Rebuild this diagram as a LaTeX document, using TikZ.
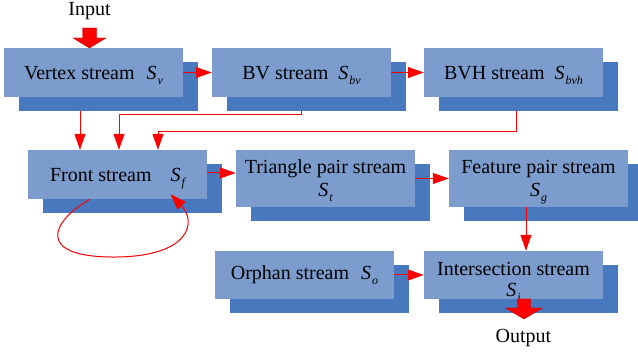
\documentclass[tikz,border=0pt]{standalone}
\usepackage{fontspec}
\setmainfont{Liberation Serif}
\usetikzlibrary{arrows.meta,calc}

\definecolor{boxfront}{RGB}{123,156,204}
\definecolor{boxback}{RGB}{72,121,191}
\definecolor{flowred}{RGB}{255,0,0}

% stream symbol S with an italic subscript (subscript kept out of the box depth)
\newcommand\strsym[1]{\textit{S}\kern1pt\smash{\raisebox{-5pt}{\fontsize{12}{12}\selectfont\itshape #1}}}

\begin{document}
\begin{tikzpicture}[x=1pt,y=-1pt,
  every node/.style={font=\fontsize{20}{22}\selectfont},
  frontbox/.style={fill=boxfront, minimum width=179pt, minimum height=49pt,
                   inner sep=0pt, align=center},
  onerow/.style={text depth=0pt},
  backbox/.style={fill=boxback, minimum width=179pt, minimum height=49pt, inner sep=0pt},
  link/.style={draw=flowred, line width=1pt,
               -{Triangle[length=16pt,width=11pt]}},
  blockarrow/.style={fill=flowred, draw=red!75!black, line width=0.4pt},
]
\useasboundingbox (0,0) rectangle (638,358);

% ---- shadow boxes (offset 15,14) ----
\node[backbox] (vsb)  at (108.5,86.5) {};
\node[backbox] (bvb)  at (316.5,86.5) {};
\node[backbox] (bvhb) at (528.5,86.5) {};
\node[backbox] (fsb)  at (132.5,188.5) {};
\node[backbox, minimum height=57pt] (tpb) at (340.5,192.5) {};
\node[backbox, minimum height=57pt] (fpb) at (553.5,192.5) {};
\node[backbox, minimum height=48pt] (osb) at (319.5,289) {};
\node[backbox, minimum height=48pt] (isb) at (528.5,289) {};

% ---- front boxes ----
\node[frontbox, onerow] (vs)  at (93.5,72.5)  {Vertex stream\hspace{12pt}\strsym{v}};
\node[frontbox, onerow] (bv)  at (301.5,72.5) {BV stream\hspace{10pt}\strsym{bv}};
\node[frontbox, onerow] (bvh) at (513.5,72.5) {BVH stream\hspace{10pt}\strsym{bvh}};
\node[frontbox, onerow] (fs)  at (117.5,174.5) {Front stream\hspace{19pt}\strsym{f}};
\node[frontbox, minimum height=57pt] (tp) at (325.5,178.5) {Triangle pair stream\\[1pt]\strsym{t}};
\node[frontbox, minimum height=57pt] (fp) at (538.5,178.5) {Feature pair stream\\[1pt]\strsym{g}};
\node[frontbox, onerow, minimum height=48pt, text depth=4pt] (os) at (304.5,275) {Orphan stream\hspace{12pt}\strsym{o}};
\node[frontbox, minimum height=48pt] (is) at (513.5,275) {};
\node[align=center, inner sep=0pt] (istext) at (513.5,279) {Intersection stream\\[-1pt]\strsym{i}};

% ---- input / output labels and block arrows ----
\node[anchor=base] (inlabel) at (89.5,16) {Input};
\node[anchor=base] (outlabel) at (523.5,343) {Output};
\coordinate (intip) at (89.5,48);
\coordinate (outtip) at (524,319);
\path[blockarrow] (intip) -- ++(-16.5,-10) -- ++(9.5,0) -- ++(0,-10) -- ++(14,0)
   -- ++(0,10) -- ++(9.5,0) -- cycle;
\path[blockarrow] (outtip) -- ++(-18.5,-11) -- ++(12,0) -- ++(0,-9) -- ++(13,0)
   -- ++(0,9) -- ++(12,0) -- cycle;

% ---- connectors ----
\coordinate (xa) at (80,0);
\coordinate (xb) at (119,0);
\coordinate (xc) at (158,0);
\coordinate (xd) at (301,0);
\coordinate (xe) at (516,0);
\coordinate (xf) at (526,0);
\coordinate (xg) at (90,0);

\draw[link] (vs.east) -- (bv.west);
\draw[link] (bv.east) -- (bvh.west);
\draw[link] (xa |- vsb.south) -- (xa |- fs.north);
\draw[link] (xd |- bvb.south) -- ++(0,3) -| (xb |- fs.north);
\draw[link] (xe |- bvhb.south) -- ++(0,20) -| (xc |- fs.north);
\draw[link] ([yshift=1.5pt]fs.east) -- ([yshift=1.5pt]fs.east -| tp.west);
\draw[link] (tp.east) -- (tp.east -| fp.west);
\draw[link] (xf |- fp.south) -- (xf |- is.north);
\draw[link] (os.east) -- (os.east -| is.west);
\draw[link] (xg |- fs.south) .. controls (50,222) and (35,258) .. (117,257)
   .. controls (190,256) and (197,222) .. ([xshift=53pt,yshift=5pt]fs.south);
\end{tikzpicture}
\end{document}
